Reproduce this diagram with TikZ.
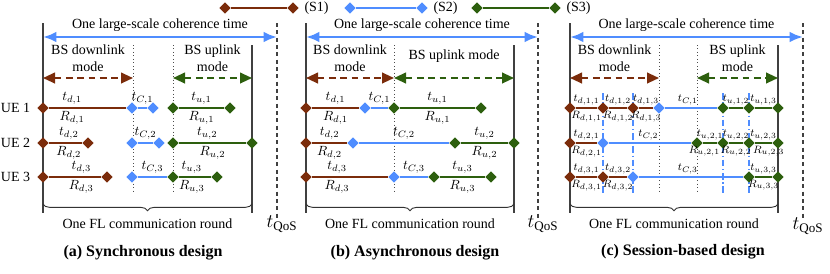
\documentclass[tikz,border=0pt]{standalone}
\usepackage{fontspec}
\setmainfont{Liberation Serif}
\usepackage{amsmath}
\usetikzlibrary{shapes.geometric, arrows.meta, positioning, decorations.pathreplacing}
\definecolor{dlbrown}{RGB}{123,44,11}
\definecolor{cblue}{RGB}{79,141,255}
\definecolor{ulgreen}{RGB}{45,95,14}

\begin{document}
\begin{tikzpicture}[
  x=0.75pt, y=-0.75pt,
  dia/.style={diamond, aspect=1, inner sep=0pt, minimum size=8.5pt},
  dd/.style={dia, fill=dlbrown},
  cd/.style={dia, fill=cblue},
  ud/.style={dia, fill=ulgreen},
  dl/.style={draw=dlbrown, line width=1.5pt},
  cl/.style={draw=cblue, line width=1.5pt},
  ul/.style={draw=ulgreen, line width=1.5pt},
  txt/.style={font=\fontsize{10.5}{12.5}\selectfont, inner sep=1pt, align=center},
  lab/.style={font=\fontsize{10}{11}\selectfont, inner sep=0.3pt},
  slab/.style={font=\fontsize{8}{9.5}\selectfont, inner sep=0pt},
  tl/.style={above=1.5pt},
  rl/.style={below=1.5pt},
  coh/.style={draw=cblue, line width=2pt, {Latex[length=10pt,width=8pt]}-{Latex[length=10pt,width=8pt]}},
  dmode/.style={draw=dlbrown, line width=1.5pt, dash pattern=on 5pt off 3.5pt, {Triangle[length=9pt,width=8pt]}-{Triangle[length=9pt,width=8pt]}},
  umode/.style={draw=ulgreen, line width=1.5pt, dash pattern=on 5pt off 3.5pt, {Triangle[length=9pt,width=8pt]}-{Triangle[length=9pt,width=8pt]}},
  guide/.style={draw=black!75, line width=0.8pt},
  dots/.style={draw=black!70, line width=0.6pt, dotted},
  qos/.style={draw=black!75, line width=0.8pt, dash pattern=on 3pt off 2.5pt},
  sess/.style={draw=cblue, line width=1pt, dash pattern=on 5pt off 2pt on 1pt off 2pt},
  brc/.style={draw=black!80, line width=0.7pt, decorate, decoration={brace, mirror, amplitude=5pt}},
  qlab/.style={font=\fontsize{14}{16}\selectfont, inner sep=0pt},
  capt/.style={font=\fontsize{12}{14}\selectfont\bfseries},
]
\useasboundingbox (0,0) rectangle (830,273);

\node[dd] (s1a) at (225,8) {};
\node[dd] (s1b) at (293,8) {};
\draw[dl] (s1a) -- (s1b);
\node[txt, right=3pt of s1b] (s1t) {(S1)};
\node[cd] (s2a) at (350,8) {};
\node[cd] (s2b) at (422,8) {};
\draw[cl] (s2a) -- (s2b);
\node[txt, right=3pt of s2b] (s2t) {(S2)};
\node[ud] (s3a) at (477,8) {};
\node[ud] (s3b) at (555,8) {};
\draw[ul] (s3a) -- (s3b);
\node[txt, right=3pt of s3b] (s3t) {(S3)};

% (a) synchronous
\draw[guide] (43,23) -- (43,213);
\draw[dots] (133,45) -- (133,193);
\draw[dots] (173,45) -- (173,193);
\draw[guide] (252,45) -- (252,213);
\draw[qos] (277,23) -- (277,219);
\node[qlab] (aq) at (282,224) {$t_{\mathrm{QoS}}$};
\coordinate (aT0) at (43,37);
\coordinate (aT1) at (277,37);
\draw[coh] (aT0) -- node[txt, above=2pt] (aTt) {One large-scale coherence time} (aT1);
\coordinate (aD0) at (43,78);
\coordinate (aD1) at (133,78);
\draw[dmode] (aD0) -- node[txt, above=3pt] (aDt) {BS downlink\\mode} (aD1);
\coordinate (aU0) at (173,78);
\coordinate (aU1) at (252,78);
\draw[umode] (aU0) -- node[txt, above=3pt] (aUt) {BS uplink\\mode} (aU1);

\node[dd] (a1s) at (43,108) {};
\node[cd] (a1c) at (132,108) {};
\node[cd] (a1ce) at (153,108) {};
\node[ud] (a1u) at (173,108) {};
\node[ud] (a1ue) at (230,108) {};
\node[txt, left=4pt of a1s] (ue1) {UE 1};
\draw[dl] (a1s) -- node[lab, tl, pos=.3] {$t_{d,1}$} node[lab, rl, pos=.3] {$R_{d,1}$} (a1c);
\draw[cl] (a1c) -- node[lab, tl] {$t_{C,1}$} (a1ce);
\draw[ul] (a1u) -- node[lab, tl] {$t_{u,1}$} node[lab, rl] {$R_{u,1}$} (a1ue);

\node[dd] (a2s) at (43,143) {};
\node[dd] (a2e) at (88,143) {};
\node[cd] (a2c) at (132,143) {};
\node[cd] (a2ce) at (159,143) {};
\node[ud] (a2u) at (173,143) {};
\node[ud] (a2ue) at (252,143) {};
\node[txt, left=4pt of a2s] (ue2) {UE 2};
\draw[dl] (a2s) -- node[lab, tl, pos=.6] {$t_{d,2}$} node[lab, rl, pos=.6] {$R_{d,2}$} (a2e);
\draw[cl] (a2c) -- node[lab, tl] {$t_{C,2}$} (a2ce);
\draw[ul] (a2u) -- node[lab, tl, pos=.42] {$t_{u,2}$} node[lab, rl] {$R_{u,2}$} (a2ue);

\node[dd] (a3s) at (43,177) {};
\node[dd] (a3e) at (107,177) {};
\node[cd] (a3c) at (132,177) {};
\node[ud] (a3u) at (173,177) {};
\node[ud] (a3ue) at (217,177) {};
\node[txt, left=4pt of a3s] (ue3) {UE 3};
\draw[dl] (a3s) -- node[lab, tl, pos=.62] {$t_{d,3}$} node[lab, rl, pos=.62] {$R_{d,3}$} (a3e);
\draw[cl] (a3c) -- node[lab, tl] {$t_{C,3}$} (a3u);
\draw[ul] (a3u) -- node[lab, tl, pos=.4] {$t_{u,3}$} node[lab, rl, pos=.4] {$R_{u,3}$} (a3ue);

\coordinate (aB0) at (43,204);
\coordinate (aB1) at (252,204);
\draw[brc] (aB0) -- node[txt, below=10pt] (aFL) {One FL communication round} (aB1);
\node[capt] (acap) at (143,253) {(a) Synchronous design};

% (b) asynchronous
\draw[guide] (306,23) -- (306,213);
\draw[dots] (394,45) -- (394,193);
\draw[guide] (514,45) -- (514,213);
\draw[qos] (538,23) -- (538,219);
\node[qlab] (bq) at (543,224) {$t_{\mathrm{QoS}}$};
\coordinate (bT0) at (306,37);
\coordinate (bT1) at (538,37);
\draw[coh] (bT0) -- node[txt, above=2pt] (bTt) {One large-scale coherence time} (bT1);
\coordinate (bD0) at (306,78);
\coordinate (bD1) at (394,78);
\draw[dmode] (bD0) -- node[txt, above=3pt] (bDt) {BS downlink\\mode} (bD1);
\coordinate (bU1) at (514,78);
\draw[umode] (bD1) -- node[txt, above=10pt] (bUt) {BS uplink mode} (bU1);

\node[dd] (b1s) at (306,108) {};
\node[cd] (b1c) at (365,108) {};
\node[ud] (b1u) at (394,108) {};
\node[ud] (b1ue) at (481,108) {};
\draw[dl] (b1s) -- node[lab, tl] {$t_{d,1}$} node[lab, rl] {$R_{d,1}$} (b1c);
\draw[cl] (b1c) -- node[lab, tl] {$t_{C,1}$} (b1u);
\draw[ul] (b1u) -- node[lab, tl] {$t_{u,1}$} node[lab, rl] {$R_{u,1}$} (b1ue);

\node[dd] (b2s) at (306,143) {};
\node[cd] (b2c) at (353,143) {};
\node[ud] (b2u) at (455,143) {};
\node[ud] (b2ue) at (514,143) {};
\draw[dl] (b2s) -- node[lab, tl] {$t_{d,2}$} node[lab, rl] {$R_{d,2}$} (b2c);
\draw[cl] (b2c) -- node[lab, tl] {$t_{C,2}$} (b2u);
\draw[ul] (b2u) -- node[lab, tl] {$t_{u,2}$} node[lab, rl] {$R_{u,2}$} (b2ue);

\node[dd] (b3s) at (306,177) {};
\node[cd] (b3c) at (394,177) {};
\node[ud] (b3u) at (434,177) {};
\node[ud] (b3ue) at (491,177) {};
\draw[dl] (b3s) -- node[lab, tl, pos=.33] {$t_{d,3}$} node[lab, rl, pos=.33] {$R_{d,3}$} (b3c);
\draw[cl] (b3c) -- node[lab, tl] {$t_{C,3}$} (b3u);
\draw[ul] (b3u) -- node[lab, tl] {$t_{u,3}$} node[lab, rl] {$R_{u,3}$} (b3ue);

\coordinate (bB0) at (306,204);
\coordinate (bB1) at (514,204);
\draw[brc] (bB0) -- node[txt, below=10pt] (bFL) {One FL communication round} (bB1);
\node[capt] (bcap) at (415,253) {(b) Asynchronous design};

% (c) session-based
\draw[guide] (570,23) -- (570,213);
\draw[dots] (659,45) -- (659,193);
\draw[dots] (697,45) -- (697,193);
\draw[guide] (778,45) -- (778,213);
\draw[qos] (803,23) -- (803,219);
\node[qlab] (cq) at (808,226) {$t_{\mathrm{QoS}}$};
\draw[sess] (603,93) -- (603,195);
\draw[sess] (633,93) -- (633,195);
\draw[sess] (723,93) -- (723,195);
\draw[sess] (749,93) -- (749,195);
\coordinate (cT0) at (570,37);
\coordinate (cT1) at (803,37);
\draw[coh] (cT0) -- node[txt, above=2pt] (cTt) {One large-scale coherence time} (cT1);
\coordinate (cD0) at (570,78);
\coordinate (cD1) at (659,78);
\draw[dmode] (cD0) -- node[txt, above=3pt] (cDt) {BS downlink\\mode} (cD1);
\coordinate (cU0) at (697,78);
\coordinate (cU1) at (778,78);
\draw[umode] (cU0) -- node[txt, above=3pt] (cUt) {BS uplink\\mode} (cU1);

\node[dd] (c1d0) at (570,108) {};
\node[dd] (c1d1) at (603,108) {};
\node[dd] (c1d2) at (633,108) {};
\node[cd] (c1c) at (659,108) {};
\node[ud] (c1u0) at (723,108) {};
\node[ud] (c1u1) at (749,108) {};
\node[ud] (c1u2) at (778,108) {};
\draw[dl] (c1d0) -- node[slab, tl] {$t_{d,1,1}$} node[slab, rl] {$R_{d,1,1}$} (c1d1);
\draw[dl] (c1d1) -- node[slab, tl] {$t_{d,1,2}$} node[slab, rl] {$R_{d,1,2}$} (c1d2);
\draw[dl] (c1d2) -- node[slab, tl] {$t_{d,1,3}$} node[slab, rl] {$R_{d,1,3}$} (c1c);
\draw[cl] (c1c) -- node[slab, tl, pos=.44] {$t_{C,1}$} (c1u0);
\draw[ul] (c1u0) -- node[slab, tl] {$t_{u,1,2}$} (c1u1);
\draw[ul] (c1u1) -- node[slab, tl] {$t_{u,1,3}$} (c1u2);

\node[dd] (c2d0) at (570,143) {};
\node[cd] (c2c) at (603,143) {};
\node[ud] (c2u0) at (697,143) {};
\node[ud] (c2u1) at (723,143) {};
\node[ud] (c2u2) at (749,143) {};
\node[ud] (c2u3) at (778,143) {};
\draw[dl] (c2d0) -- node[slab, tl] {$t_{d,2,1}$} node[slab, rl] {$R_{d,2,1}$} (c2c);
\draw[cl] (c2c) -- node[slab, tl, pos=.48] {$t_{C,2}$} (c2u0);
\draw[ul] (c2u0) -- node[slab, tl] {$t_{u,2,1}$} node[slab, rl, pos=.1] {$R_{u,2,1}$} (c2u1);
\draw[ul] (c2u1) -- node[slab, tl] {$t_{u,2,2}$} node[slab, rl] {$R_{u,2,2}$} (c2u2);
\draw[ul] (c2u2) -- node[slab, tl] {$t_{u,2,3}$} node[slab, rl, pos=.8] {$R_{u,2,3}$} (c2u3);

\node[dd] (c3d0) at (570,177) {};
\node[dd] (c3d1) at (603,177) {};
\node[cd] (c3c) at (633,177) {};
\node[ud] (c3u0) at (749,177) {};
\node[ud] (c3u1) at (778,177) {};
\draw[dl] (c3d0) -- node[slab, tl] {$t_{d,3,1}$} node[slab, rl] {$R_{d,3,1}$} (c3d1);
\draw[dl] (c3d1) -- node[slab, tl] {$t_{d,3,2}$} node[slab, rl] {$R_{d,3,2}$} (c3c);
\draw[cl] (c3c) -- node[slab, tl, pos=.47] {$t_{C,3}$} (c3u0);
\draw[ul] (c3u0) -- node[slab, tl] {$t_{u,3,3}$} node[slab, rl] {$R_{u,3,3}$} (c3u1);

\coordinate (cB0) at (570,204);
\coordinate (cB1) at (778,204);
\draw[brc] (cB0) -- node[txt, below=10pt] (cFL) {One FL communication round} (cB1);
\node[capt] (ccap) at (683,252) {(c) Session-based design};
\end{tikzpicture}
\end{document}
